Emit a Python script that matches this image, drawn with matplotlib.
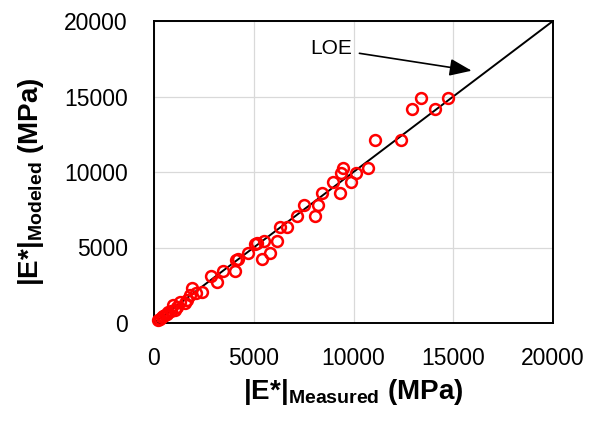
import matplotlib
matplotlib.use("Agg")
import matplotlib.pyplot as plt

# measured vs modeled dynamic modulus, MPa
measured = [215, 300, 386, 470, 551, 640, 717, 850, 967, 1053, 1150, 1303, 1554, 1650,
            1805, 1890, 2100, 2390, 3141, 2857, 3443, 4060, 4227, 4100, 4728, 5398, 5815,
            5180, 5050, 5514, 6182, 6316, 6651, 7152, 8070, 7536, 8236, 8404, 9323, 8988,
            9857, 9358, 9459, 10125, 10727, 11062, 12365, 12950, 14070, 13383, 14753]
modeled = [199, 260, 375, 470, 530, 600, 750, 820, 1192, 861, 1050, 1413, 1302, 1550,
           1854, 2296, 2000, 2075, 2737, 3135, 3444, 3444, 4218, 4150, 4616, 4218, 4616,
           5278, 5200, 5430, 5430, 6378, 6378, 7086, 7086, 7815, 7815, 8588, 8588, 9360,
           9360, 9955, 10285, 9955, 10285, 12119, 12119, 14172, 14172, 14920, 14880]

loe = [0, 20000]
ticks = [0, 5000, 10000, 15000, 20000]

font = "Liberation Sans"
plt.rcParams["font.family"] = [font, "DejaVu Sans"]
plt.rcParams["mathtext.fontset"] = "custom"
plt.rcParams["mathtext.rm"] = font
plt.rcParams["mathtext.bf"] = font + ":bold"

fig = plt.figure(figsize=(5.94, 4.25), dpi=100)
ax = fig.add_axes([154 / 594, 1 - 323 / 425, 399 / 594, 302 / 425])

ax.plot(loe, loe, color="black", lw=1.4, zorder=2)
ax.plot(measured, modeled, "o", ms=7.8, mfc="none", mec="#ff0000", mew=1.8,
        zorder=3, clip_on=False)

ax.set_xlim(0, 20000)
ax.set_ylim(0, 20000)
ax.set_xticks(ticks)
ax.set_yticks(ticks)
ax.grid(True, color="#d9d9d9", lw=0.9)
ax.set_axisbelow(True)
for s in ax.spines.values():
    s.set_linewidth(1.4)
    s.set_color("black")
ax.tick_params(axis="both", length=0, labelsize=16.5)
ax.tick_params(axis="x", pad=17)
ax.tick_params(axis="y", pad=19)

ax.set_xlabel(r"$\mathbf{|E{*}|_{Measured}}$" + " " + r"$\mathbf{(MPa)}$", fontsize=20)
ax.set_ylabel(r"$\mathbf{|E{*}|_{Modeled}}$" + " " + r"$\mathbf{(MPa)}$", fontsize=20)
ax.xaxis.set_label_coords(0.5, -0.18)
ax.yaxis.set_label_coords(-0.27, 0.4685)

ax.annotate("LOE", xy=(15925, 16709), xytext=(9950, 18146), fontsize=15,
            ha="right", va="center",
            arrowprops=dict(arrowstyle="-|>,head_length=0.9,head_width=0.35",
                            color="black", lw=1.2, shrinkA=3, shrinkB=0))

fig.savefig("out.png", dpi=100)
